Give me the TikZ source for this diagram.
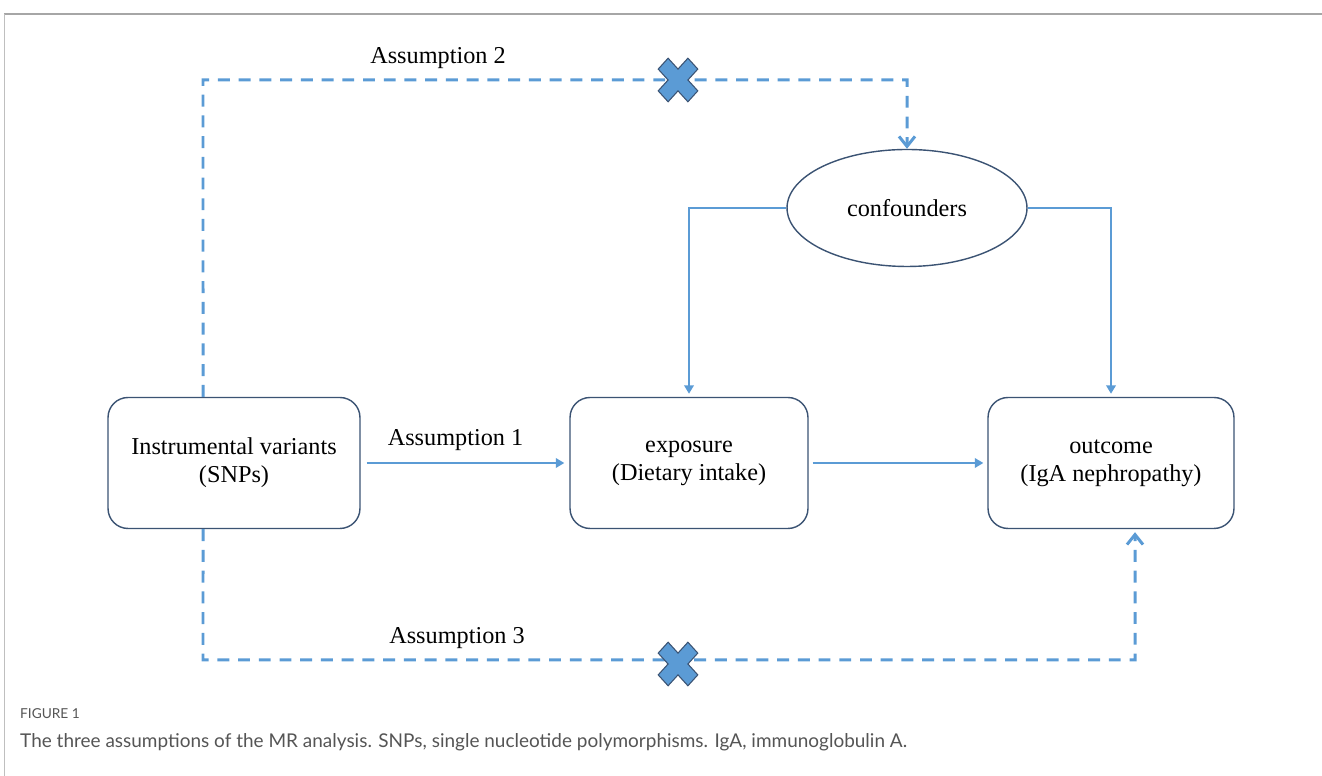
\documentclass[tikz,border=0pt]{standalone}
\usepackage{fontspec}
\setmainfont{Liberation Serif}
\newfontfamily\capfont{Lato}
\usetikzlibrary{positioning, arrows.meta, shapes.geometric}
\definecolor{lineblue}{HTML}{5B9BD5}
\definecolor{boxedge}{HTML}{3B5373}
\definecolor{captext}{HTML}{555555}
\begin{document}
\begin{tikzpicture}[
  x=0.02cm, y=0.02cm,
  font=\fontsize{13.8}{16}\selectfont,
  box/.style={draw=boxedge, line width=0.8pt, rounded corners=0.4cm, minimum height=2.62cm, align=center},
  flow/.style={-{Triangle[length=1.7mm, width=1.9mm]}, lineblue, line width=1.1pt},
  conflow/.style={flow, line width=1.6pt},
  assume/.style={-{Straight Barb[length=2mm, width=3.2mm]}, lineblue, line width=1.7pt, dash pattern=on 6.8pt off 5pt},
  nolink/.pic={\filldraw[fill=lineblue, draw=boxedge, line width=0.6pt, yscale=1.1, rotate=45]
    (-7,21) -- (7,21) -- (7,7) -- (21,7) -- (21,-7) -- (7,-7) -- (7,-21) -- (-7,-21)
    -- (-7,-7) -- (-21,-7) -- (-21,7) -- (-7,7) -- cycle;}
]
\useasboundingbox (0,0) rectangle (1322,776);
% --- frame ---
\draw[gray!70, line width=1.2pt] (1322,762) -- (4,762);
\draw[gray!50, line width=0.5pt] (4,762) -- (4,0);
% --- boxes ---
\node[box, minimum width=5.04cm] (iv) at (234,313) {Instrumental variants\\(SNPs)};
\node[box, minimum width=4.76cm] (exp) at (689,313) {exposure\\(Dietary intake)};
\node[box, minimum width=4.92cm] (out) at (1111,313) {outcome\\(IgA nephropathy)};
\node[ellipse, draw=boxedge, line width=0.8pt, minimum width=4.8cm, minimum height=2.34cm] (conf) at (907,568) {confounders};
% --- causal arrows ---
\draw[flow] ([xshift=0.12cm]iv.east) -- ([xshift=-0.1cm]exp.east -| exp.west)
   node[midway, above=0.12cm, xshift=-0.2cm, text=black] {Assumption 1};
\draw[flow] ([xshift=0.08cm]exp.east) -- ([xshift=-0.08cm]out.west);
\draw[conflow] (conf.west) -| ([yshift=0.06cm]exp.north);
\draw[conflow] (conf.east) -| ([yshift=0.06cm]out.north);
% --- violated paths ---
\coordinate (a2) at (203,696);
\coordinate (a3) at (203,116);
\draw[assume] ([xshift=-0.62cm]iv.north) -- (a2) -| (conf.north);
\draw[assume] ([xshift=-0.62cm]iv.south) -- (a3) -| ([xshift=0.48cm, yshift=-0.06cm]out.south);
\node (lab2) at (438,718) {Assumption 2};
\node (lab3) at (457,138) {Assumption 3};
\pic at (678,696) {nolink};
\pic at (678,112) {nolink};
% --- caption ---
\node[anchor=west, text=captext, font=\capfont\fontsize{7.8}{9}\selectfont] (figno) at (14,62) {FIGURE 1};
\node[anchor=west, text=captext, font=\capfont\fontsize{10.8}{13}\selectfont] (cap) at (14,34)
  {The three assumptions of the MR analysis. SNPs, single nucleotide polymorphisms. IgA, immunoglobulin A.};
\end{tikzpicture}
\end{document}
